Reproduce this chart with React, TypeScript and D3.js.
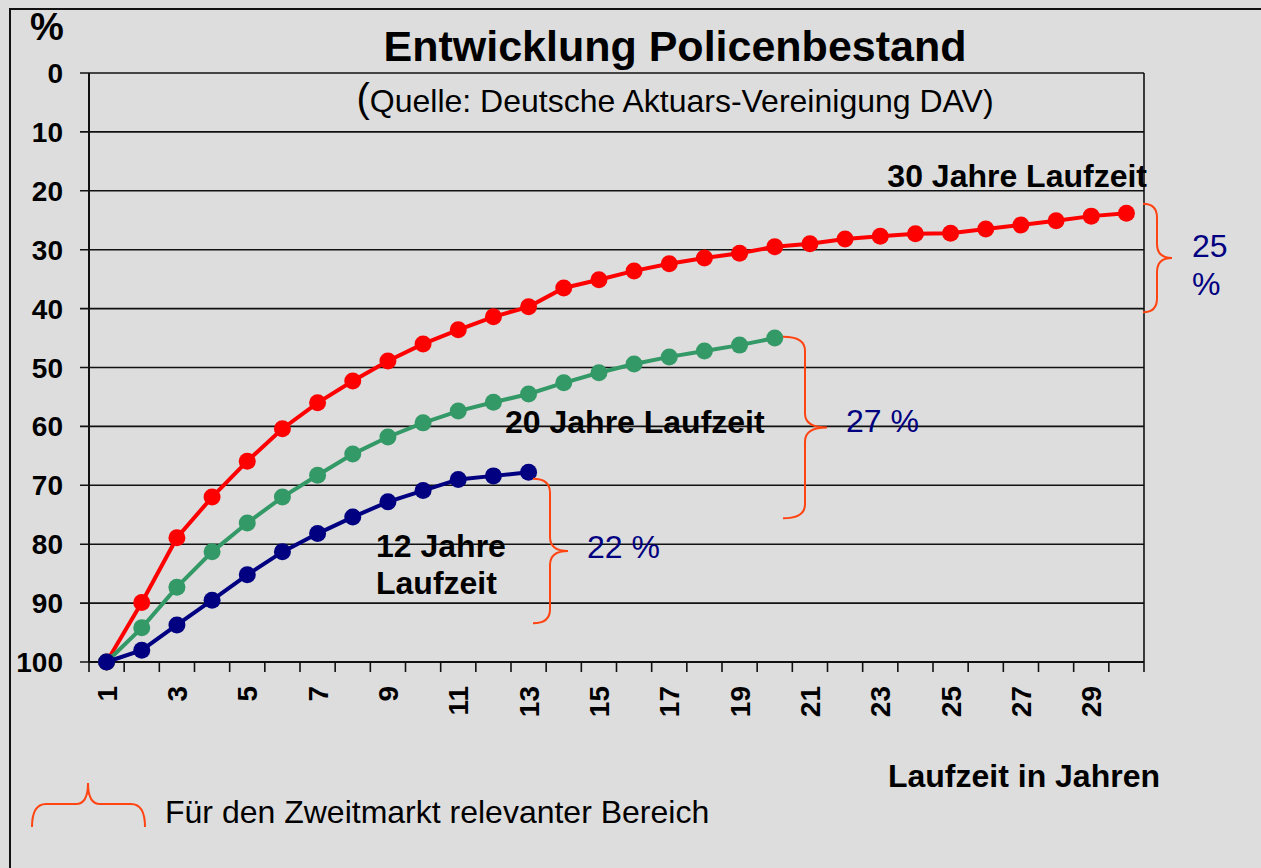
import React from 'react'
import * as d3 from 'd3'

// Laufzeit (Jahre) 1..30
const years = d3.range(1, 31)
const yTicks = [0, 10, 20, 30, 40, 50, 60, 70, 80, 90, 100]

// Policenbestand in % (Achse invertiert: 0 oben, 100 unten)
const laufzeit30 = [100, 89.9, 78.9, 72, 65.9, 60.4, 56, 52.3, 48.9, 46, 43.6, 41.4, 39.7, 36.5, 35.1,
  33.6, 32.4, 31.4, 30.6, 29.5, 29, 28.2, 27.7, 27.3, 27.2, 26.5, 25.8, 25.1, 24.3, 23.8]
const laufzeit20 = [100, 94.2, 87.3, 81.3, 76.4, 72, 68.3, 64.7, 61.8, 59.4, 57.4, 55.9, 54.5, 52.6, 50.9,
  49.4, 48.2, 47.2, 46.2, 45]
const laufzeit12 = [100, 98, 93.7, 89.5, 85.2, 81.3, 78.2, 75.4, 72.8, 70.9, 69, 68.4, 67.8]

const series = [
  { name: '30', values: laufzeit30, color: '#ff0000' },
  { name: '20', values: laufzeit20, color: '#339966' },
  { name: '12', values: laufzeit12, color: '#000080' },
]

const W = 1261
const H = 868
const left = 89, right = 1144, top = 73, bottom = 662
const font = 'Liberation Sans, Arial, sans-serif'
const braceColor = '#ff4411'
const navy = '#000080'

// vertical curly brace opening to the left
const vBrace = (x0: number, spine: number, tip: number, y0: number, y1: number) => {
  const mid = (y0 + y1) / 2
  const r = 14
  return `M${x0},${y0} Q${spine},${y0} ${spine},${y0 + r} L${spine},${mid - r} Q${spine},${mid} ${tip},${mid}` +
    ` Q${spine},${mid} ${spine},${mid + r} L${spine},${y1 - r} Q${spine},${y1} ${x0},${y1}`
}

const App = () => {
  const x = d3.scaleBand<number>().domain(years).range([left, right])
  const cx = (d: number) => (x(d) as number) + x.bandwidth() / 2
  const y = d3.scaleLinear().domain([0, 100]).range([top, bottom])
  const line = d3.line<number>()
    .x((d, i) => cx(years[i]))
    .y(d => y(d))

  const boundaries = d3.range(0, years.length + 1).map(i => left + i * x.bandwidth())

  return (
    <svg width={W} height={H} style={{ position: 'absolute', left: 0, top: 0 }} fontFamily={font}>
      <rect x={0} y={0} width={W} height={H} fill="#dddddd" />
      <rect x={10} y={9} width={W + 20} height={H + 20} fill="none" stroke="#111" strokeWidth={2} />

      {/* grid */}
      {yTicks.map(t => (
        <g key={t}>
          <line x1={80} x2={right} y1={y(t)} y2={y(t)} stroke="#111" strokeWidth={1.6} />
          <text x={63} y={y(t) + 10} textAnchor="end" fontSize={28} fontWeight="bold">{t}</text>
        </g>
      ))}
      <line x1={left} x2={left} y1={top} y2={bottom} stroke="#111" strokeWidth={2} />
      <line x1={right} x2={right} y1={top} y2={bottom} stroke="#111" strokeWidth={1.6} />
      <line x1={left} x2={right} y1={bottom} y2={bottom} stroke="#111" strokeWidth={2} />

      {/* x ticks */}
      {boundaries.map((b, i) => (
        <line key={i} x1={b} x2={b} y1={bottom} y2={bottom + 10} stroke="#111" strokeWidth={1.6} />
      ))}
      {years.filter(d => d % 2 === 1).map(d => (
        <text key={d} transform={`translate(${cx(d) + 10},686) rotate(-90)`} textAnchor="end"
          fontSize={28} fontWeight="bold">{d}</text>
      ))}

      {/* series */}
      {series.map(s => (
        <g key={s.name}>
          <path d={line(s.values) ?? ''} fill="none" stroke={s.color} strokeWidth={4} />
          {s.values.map((v, i) => (
            <circle key={i} cx={cx(years[i])} cy={y(v)} r={8.5} fill={s.color} />
          ))}
        </g>
      ))}

      {/* titles */}
      <text x={30} y={40} fontSize={38} fontWeight="bold">%</text>
      <text x={675} y={61} textAnchor="middle" fontSize={43} fontWeight="bold">Entwicklung Policenbestand</text>
      <text x={675} y={112} textAnchor="middle" fontSize={32}>
        <tspan fontSize={40}>(</tspan>Quelle: Deutsche Aktuars-Vereinigung DAV)
      </text>

      {/* series labels */}
      <text x={1147} y={187} textAnchor="end" fontSize={32} fontWeight="bold">30 Jahre Laufzeit</text>
      <text x={505} y={433} fontSize={32} fontWeight="bold">20 Jahre Laufzeit</text>
      <text x={376} y={557} fontSize={32} fontWeight="bold">12 Jahre</text>
      <text x={376} y={594} fontSize={32} fontWeight="bold">Laufzeit</text>
      <text x={1160} y={787} textAnchor="end" fontSize={32} fontWeight="bold">Laufzeit in Jahren</text>

      {/* braces */}
      <path d={vBrace(1143, 1157, 1172, y(22.2), y(40.6))} fill="none" stroke={braceColor} strokeWidth={2} />
      <path d={vBrace(783, 805, 827, y(44.8), y(75.6))} fill="none" stroke={braceColor} strokeWidth={2} />
      <path d={vBrace(533, 550, 568, y(68.9), y(93.4))} fill="none" stroke={braceColor} strokeWidth={2} />
      <text x={1192} y={257} fontSize={32} fill={navy}>25</text>
      <text x={1192} y={295} fontSize={32} fill={navy}>%</text>
      <text x={846} y={432} fontSize={32} fill={navy}>27 %</text>
      <text x={587} y={558} fontSize={32} fill={navy}>22 %</text>

      {/* legend */}
      <path d="M32,827 Q32,804 46,804 L76,804 Q88,804 88,783 Q88,804 100,804 L131,804 Q145,804 145,827"
        fill="none" stroke={braceColor} strokeWidth={2} />
      <text x={165} y={823} fontSize={32}>Für den Zweitmarkt relevanter Bereich</text>
    </svg>
  )
}

export default App
